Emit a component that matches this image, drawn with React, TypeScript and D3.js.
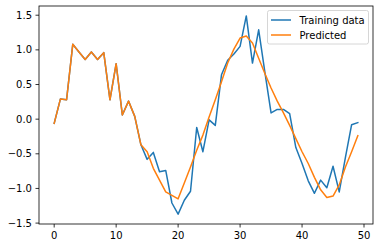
import React from "react";
import * as d3 from "d3";

const steps: number[] = Array.from({ length: 50 }, (_, i) => i);

const trainingData: number[] = [
  -0.06, 0.29, 0.28, 1.08, 0.97, 0.86, 0.97, 0.86, 0.96, 0.28,
  0.8, 0.06, 0.26, 0.04, -0.37, -0.58, -0.48, -0.76, -0.74, -1.21,
  -1.37, -1.17, -1.04, -0.12, -0.47, -0.01, -0.09, 0.64, 0.85, 0.94,
  1.05, 1.49, 0.81, 1.29, 0.68, 0.09, 0.14, 0.14, 0.08, -0.41,
  -0.64, -0.89, -1.07, -0.88, -0.99, -0.68, -1.05, -0.55, -0.08, -0.05,
];

const predicted: number[] = [
  -0.06, 0.29, 0.28, 1.08, 0.97, 0.86, 0.97, 0.86, 0.96, 0.28,
  0.8, 0.06, 0.26, 0.04, -0.37, -0.47, -0.71, -0.88, -1.05, -1.1,
  -1.15, -0.92, -0.69, -0.45, -0.23, 0.03, 0.28, 0.54, 0.81, 1.01,
  1.17, 1.2, 1.1, 0.88, 0.66, 0.45, 0.26, 0.09, -0.09, -0.28,
  -0.47, -0.64, -0.84, -1.02, -1.13, -1.11, -0.95, -0.69, -0.47, -0.24,
];

const xTicks: number[] = [0, 10, 20, 30, 40, 50];
const yTicks: number[] = [-1.5, -1.0, -0.5, 0.0, 0.5, 1.0, 1.5];
const seriesNames: string[] = ["Training data", "Predicted"];
const seriesColors: string[] = ["#1f77b4", "#ff7f0e"];

const W = 380;
const H = 248;
const L = 39;
const R = 373;
const T = 6;
const B = 224;
const FONT = "DejaVu Sans, sans-serif";

function fmt(v: number): string {
  const s = v.toFixed(1);
  return v < 0 ? "\u2212" + s.slice(1) : s;
}

export default function App() {
  const xMin = d3.min(steps)!;
  const xMax = d3.max(steps)!;
  const xPad = (xMax - xMin) * 0.05;
  const all = trainingData.concat(predicted);
  const yMin = d3.min(all)!;
  const yMax = d3.max(all)!;
  const yPad = (yMax - yMin) * 0.05;

  const x = d3.scaleLinear().domain([xMin - xPad, xMax + xPad]).range([L, R]);
  const y = d3.scaleLinear().domain([yMin - yPad, yMax + yPad]).range([B, T]);

  const line = d3
    .line<number>()
    .x((_, i) => x(steps[i]))
    .y((d) => y(d));

  const series = [trainingData, predicted];

  const legX = 267.5;
  const legY = 10.5;
  const legW = 101;
  const legH = 33.5;

  return (
    <svg
      width={W}
      height={H}
      style={{ position: "absolute", left: 0, top: 0, background: "#fff" }}
      fontFamily={FONT}
    >
      <rect x={0} y={0} width={W} height={H} fill="#fff" />
      <defs>
        <clipPath id="plot">
          <rect x={L} y={T} width={R - L} height={B - T} />
        </clipPath>
      </defs>
      <g clipPath="url(#plot)">
        {series.map((s, k) => (
          <path
            key={k}
            d={line(s) || ""}
            fill="none"
            stroke={seriesColors[k]}
            strokeWidth={1.5}
            strokeLinejoin="round"
            strokeLinecap="square"
          />
        ))}
      </g>
      <rect
        x={L}
        y={T}
        width={R - L}
        height={B - T}
        fill="none"
        stroke="#000"
        strokeWidth={0.8}
      />
      {xTicks.map((t) => (
        <g key={"x" + t}>
          <line x1={x(t)} x2={x(t)} y1={B} y2={B + 3.5} stroke="#000" strokeWidth={0.8} />
          <text x={x(t)} y={B + 15} fontSize={10} textAnchor="middle" fill="#000">
            {t}
          </text>
        </g>
      ))}
      {yTicks.map((t) => (
        <g key={"y" + t}>
          <line x1={L - 3.5} x2={L} y1={y(t)} y2={y(t)} stroke="#000" strokeWidth={0.8} />
          <text
            x={L - 7}
            y={y(t)}
            dy="0.35em"
            fontSize={10}
            textAnchor="end"
            fill="#000"
          >
            {fmt(t)}
          </text>
        </g>
      ))}
      <rect
        x={legX}
        y={legY}
        width={legW}
        height={legH}
        rx={2}
        fill="#fff"
        fillOpacity={0.8}
        stroke="#ccc"
        strokeWidth={0.8}
      />
      {seriesNames.map((n, k) => {
        const cy = legY + 9.5 + k * 15;
        return (
          <g key={n}>
            <line
              x1={legX + 3.5}
              x2={legX + 23.5}
              y1={cy}
              y2={cy}
              stroke={seriesColors[k]}
              strokeWidth={1.5}
            />
            <text x={legX + 32} y={cy} dy="0.35em" fontSize={10} fill="#000">
              {n}
            </text>
          </g>
        );
      })}
    </svg>
  );
}
